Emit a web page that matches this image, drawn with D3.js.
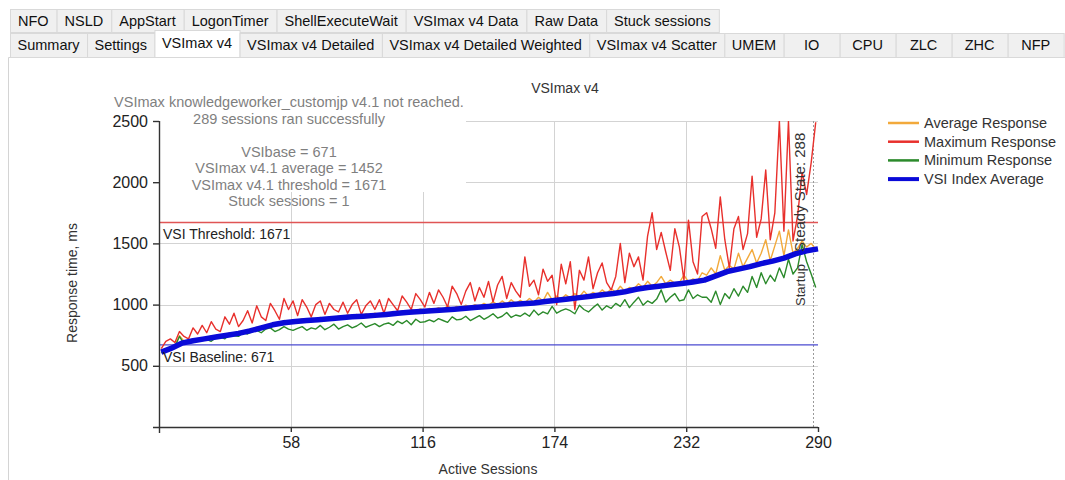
<!DOCTYPE html>
<html>
<head>
<meta charset="utf-8">
<script src="https://cdn.jsdelivr.net/npm/d3@7"></script>
<style>
  html, body { margin: 0; padding: 0; background: #ffffff; }
  svg { display: block; font-family: "Liberation Sans", Arial, sans-serif; }
</style>
</head>
<body>
<div id="container"></div>
<script>
"use strict";

// Tabs of the report window.
const tabsTop = ["NFO", "NSLD", "AppStart", "LogonTimer", "ShellExecuteWait", "VSImax v4 Data", "Raw Data", "Stuck sessions"];
const tabsBottom = ["Summary", "Settings", "VSImax v4", "VSImax v4 Detailed", "VSImax v4 Detailed Weighted",
  "VSImax v4 Scatter", "UMEM", "IO", "CPU", "ZLC", "ZHC", "NFP"];
const activeTab = "VSImax v4";

const chartTitle = "VSImax v4";
const xTicks = [58, 116, 174, 232, 290];
const yTicks = [500, 1000, 1500, 2000, 2500];
const noteLines = [
  "VSImax knowledgeworker_customjp v4.1 not reached.",
  "289 sessions ran successfully",
  "",
  "VSIbase = 671",
  "VSImax v4.1 average = 1452",
  "VSImax v4.1 threshold = 1671",
  "Stuck sessions = 1"
];
const vsiBase = 671;
const vsiThreshold = 1671;
const steadyState = 288;

// Per-session responses, read every second session (1, 3, 5 ... 289).
const sessions = d3.range(1, 290, 2);
const avgResponse = [
  620, 640, 650, 670, 745, 700, 705, 720, 720, 730,
  730, 745, 740, 755, 750, 770, 765, 780, 780, 795,
  800, 815, 815, 835, 840, 850, 850, 870, 860, 875,
  870, 885, 875, 890, 880, 895, 885, 900, 893, 905,
  900, 915, 905, 920, 910, 925, 912, 930, 920, 935,
  930, 945, 935, 950, 940, 960, 946, 965, 952, 968,
  958, 975, 960, 990, 966, 985, 972, 995, 978, 1000,
  985, 1010, 990, 1025, 996, 1030, 1002, 1040, 1008, 1035,
  1015, 1050, 1020, 1060, 1030, 1100, 1038, 1070, 1045, 1080,
  1055, 1090, 1062, 1110, 1070, 1100, 1082, 1120, 1090, 1130,
  1100, 1150, 1110, 1140, 1128, 1170, 1140, 1190, 1150, 1180,
  1230, 1170, 1200, 1175, 1180, 1240, 1185, 1210, 1195, 1260,
  1240, 1300, 1250, 1400, 1280, 1320, 1290, 1420, 1310, 1380,
  1450, 1340, 1420, 1530, 1360, 1480, 1600, 1400, 1610, 1420,
  1460, 1520, 1470, 1500, 1450
];
const maxResponse = [
  640, 700, 720, 690, 780, 740, 720, 810, 760, 830,
  770, 860, 800, 780, 900, 840, 930, 820, 870, 950,
  850, 990, 900, 870, 1010, 950, 880, 1050, 960, 1030,
  910, 1040, 980, 900, 1000, 1030, 920, 1010, 960, 940,
  1020, 930, 1000, 1040, 920, 990, 1030, 960, 1040, 930,
  1050, 1000, 950, 1070, 1020, 960, 1090, 1040, 980, 1100,
  1010, 1120, 1060, 980, 1150, 1090, 1000, 1110, 1180, 1030,
  1140, 1060, 1190, 1020, 1160, 1230, 1050, 1180, 1110, 1060,
  1390, 1150, 1200, 1080, 1290, 1190, 1240, 1000, 1330, 1170,
  1350, 960, 1280, 1200, 1390, 1130, 1260, 1340, 1180, 1120,
  1230, 1500, 1180, 1420, 1310, 1390, 1200, 1560, 1750, 1450,
  1590, 1430, 1280, 1620, 1470, 1200, 1690, 1350, 1250, 1720,
  1750, 1620, 1460, 1880, 1530, 1300, 1620, 1720, 1450, 1580,
  2050, 1550, 1700, 2100, 1530, 1750, 2500, 1600, 2500, 1520,
  1720, 2080, 1900, 2160, 2490
];
const minResponse = [
  605, 630, 645, 655, 740, 680, 690, 700, 705, 715,
  715, 700, 730, 735, 720, 760, 745, 740, 770, 760,
  780, 790, 770, 800, 810, 780, 795, 820, 800, 790,
  805, 820, 790, 810, 800, 830, 795, 815, 840, 800,
  820, 835, 810, 825, 850, 815, 830, 845, 820, 840,
  850, 830, 865, 845, 870, 835, 880, 855, 860, 875,
  860, 885, 870, 855, 900, 875, 880, 905, 870, 890,
  910, 880, 900, 925, 890, 905, 935, 895, 915, 905,
  930, 905, 955, 915, 940, 925, 985, 930, 950, 965,
  950, 925, 995, 960, 940, 975, 1005, 955, 990, 970,
  1010, 985, 1040, 975, 1020, 1060, 995, 1030, 1010, 1045,
  1120, 1020, 1060, 1090, 1030, 1040, 1120, 1050, 1080, 1060,
  1060, 1020, 1110, 1000, 1090, 1050, 1130, 1070, 1150, 1100,
  1230, 1140, 1260, 1170, 1240, 1190, 1300, 1220, 1370, 1250,
  1300, 1490, 1350, 1250, 1140
];

// VSI index average is smooth, read every fifth session.
const vsiSessions = [1, 5, 10, 15, 20, 25, 30, 35, 40, 45, 50, 55, 60, 65, 70, 75, 80, 85, 90, 95,
  100, 105, 110, 115, 120, 125, 130, 135, 140, 145, 150, 155, 160, 165, 170, 175, 180, 185, 190, 195,
  200, 205, 210, 215, 220, 225, 230, 235, 240, 245, 250, 255, 260, 265, 270, 275, 280, 285, 290];
const vsiIndex = [612, 640, 685, 705, 720, 735, 750, 765, 785, 810, 835, 852, 862, 870, 877, 885, 893, 900, 905, 912,
  920, 930, 937, 944, 950, 955, 962, 970, 978, 985, 993, 1000, 1006, 1013, 1025, 1035, 1045, 1057, 1068, 1080,
  1090, 1105, 1125, 1140, 1150, 1162, 1172, 1185, 1200, 1235, 1270, 1290, 1310, 1335, 1355, 1380, 1415, 1440, 1455];

const seriesNames = ["Average Response", "Maximum Response", "Minimum Response", "VSI Index Average"];

const W = 1065, H = 480;
const colors = {
  "Average Response": "#f2a93b",
  "Maximum Response": "#e8302c",
  "Minimum Response": "#2b8a2b",
  "VSI Index Average": "#0a0ad8"
};

const svg = d3.select("#container").append("svg").attr("width", W).attr("height", H);

// ---- tab strip ----
const tabFont = 14.5;
function drawTabRow(names, top, height, padding, minWidth) {
  let left = 10;
  const row = svg.append("g");
  names.forEach((name) => {
    const active = name === activeTab;
    const g = row.append("g");
    const rect = g.append("rect");
    const label = g.append("text")
      .attr("font-size", tabFont)
      .attr("fill", "#111")
      .attr("text-anchor", "middle")
      .text(name);
    const w = Math.max(label.node().getComputedTextLength() + 2 * padding, minWidth);
    rect
      .attr("x", left + 0.5)
      .attr("y", active ? top - 2.5 : top + 0.5)
      .attr("width", w)
      .attr("height", active ? height + 3 : height)
      .attr("fill", active ? "#ffffff" : "#f0f0f0")
      .attr("stroke", "#d9d9d9");
    label.attr("x", left + w / 2).attr("y", top + height / 2 + 5 - (active ? 2 : 0));
    left += w;
  });
}
drawTabRow(tabsTop, 9, 23, 8, 40);
// content frame
svg.append("path")
  .attr("d", `M8.5,${H} V57.5 H${W}`)
  .attr("fill", "none")
  .attr("stroke", "#d4d4d4");
drawTabRow(tabsBottom, 33, 24, 7.5, 56);

// ---- chart ----
const x = d3.scaleLinear().domain([0, 290]).range([159, 818]);
const y = d3.scaleLinear().domain([0, 2500]).range([427, 121]);

const grid = svg.append("g").attr("stroke", "#d3d3d3").attr("stroke-width", 1);
grid.selectAll("line.h").data(yTicks).join("line")
  .attr("x1", x(0)).attr("x2", x(290))
  .attr("y1", (d) => Math.round(y(d)) + 0.5).attr("y2", (d) => Math.round(y(d)) + 0.5);
grid.selectAll("line.v").data(xTicks.slice(0, -1)).join("line")
  .attr("x1", (d) => Math.round(x(d)) + 0.5).attr("x2", (d) => Math.round(x(d)) + 0.5)
  .attr("y1", y(2500)).attr("y2", y(0));

// steady state marker
svg.append("line")
  .attr("x1", Math.round(x(steadyState)) + 0.5).attr("x2", Math.round(x(steadyState)) + 0.5)
  .attr("y1", y(2500)).attr("y2", y(0))
  .attr("stroke", "#9a9a9a").attr("stroke-dasharray", "2,2");

// annotation box hides grid behind the notes
svg.append("rect")
  .attr("x", 108).attr("y", 93).attr("width", 358).attr("height", 99)
  .attr("fill", "#ffffff");

// reference lines
svg.append("line")
  .attr("x1", x(0)).attr("x2", x(290))
  .attr("y1", y(vsiThreshold)).attr("y2", y(vsiThreshold))
  .attr("stroke", "#e05555").attr("stroke-width", 1.5);
svg.append("line")
  .attr("x1", x(0)).attr("x2", x(290))
  .attr("y1", y(vsiBase)).attr("y2", y(vsiBase))
  .attr("stroke", "#4b4bd0").attr("stroke-width", 1.3);

svg.append("clipPath").attr("id", "plot")
  .append("rect").attr("x", x(0)).attr("y", y(2500)).attr("width", x(290) - x(0) + 2).attr("height", y(0) - y(2500));

const plot = svg.append("g").attr("clip-path", "url(#plot)");
const line = d3.line().x((d) => x(d[0])).y((d) => y(d[1]));
const seriesData = {
  "Average Response": d3.zip(sessions, avgResponse),
  "Maximum Response": d3.zip(sessions, maxResponse),
  "Minimum Response": d3.zip(sessions, minResponse),
  "VSI Index Average": d3.zip(vsiSessions, vsiIndex)
};
seriesNames.forEach((name) => {
  plot.append("path")
    .datum(seriesData[name])
    .attr("fill", "none")
    .attr("stroke", colors[name])
    .attr("stroke-width", name === "VSI Index Average" ? 5.5 : 1.4)
    .attr("stroke-linejoin", "round")
    .attr("d", line);
});

// reference line labels
svg.append("text").attr("x", 163).attr("y", y(vsiThreshold) + 17)
  .attr("font-size", 14).attr("fill", "#222").text(`VSI Threshold: ${vsiThreshold}`);
svg.append("text").attr("x", 163).attr("y", y(vsiBase) + 17)
  .attr("font-size", 14).attr("fill", "#222").text(`VSI Baseline: ${vsiBase}`);

// startup / steady state labels
svg.append("text")
  .attr("transform", `translate(${x(steadyState) - 8},306) rotate(-90)`)
  .attr("font-size", 13).attr("fill", "#333").text("Startup");
svg.append("text")
  .attr("transform", `translate(${x(steadyState) - 8},252) rotate(-90)`)
  .attr("font-size", 15).attr("fill", "#333").text(`Steady State: ${steadyState}`);

// axes
const yAxis = svg.append("g")
  .attr("transform", `translate(${x(0)},0)`)
  .call(d3.axisLeft(y).tickValues(yTicks).tickFormat(d3.format("d")).tickSize(6).tickPadding(5).tickSizeOuter(0))
  .call((g) => g.select(".domain").attr("d", `M0.5,${y(2500)}V${y(0) + 6}`));
yAxis.selectAll("text").attr("font-size", 16).attr("fill", "#222")
  .attr("font-family", "\"Liberation Sans\", Arial, sans-serif");
yAxis.selectAll("line, path").attr("stroke", "#333").attr("stroke-width", 1.4);

const xAxis = svg.append("g")
  .attr("transform", `translate(0,${y(0)})`)
  .call(d3.axisBottom(x).tickValues(xTicks).tickSize(5).tickPadding(5).tickSizeOuter(0))
  .call((g) => g.select(".domain").attr("d", `M${x(0) - 6},0.5H${x(290)}`));
xAxis.selectAll("text").attr("font-size", 16).attr("fill", "#222")
  .attr("font-family", "\"Liberation Sans\", Arial, sans-serif");
xAxis.selectAll("line, path").attr("stroke", "#333").attr("stroke-width", 1.4);

// axis titles and chart title
svg.append("text")
  .attr("transform", `translate(77,283) rotate(-90)`)
  .attr("text-anchor", "middle").attr("font-size", 14).attr("fill", "#333")
  .text("Response time, ms");
svg.append("text")
  .attr("x", 488).attr("y", 474)
  .attr("text-anchor", "middle").attr("font-size", 14).attr("fill", "#333")
  .text("Active Sessions");
svg.append("text")
  .attr("x", 565).attr("y", 93)
  .attr("text-anchor", "middle").attr("font-size", 14).attr("fill", "#333")
  .text(chartTitle);

// notes
svg.append("g").selectAll("text").data(noteLines).join("text")
  .attr("x", 289)
  .attr("y", (d, i) => 107 + i * 16.5)
  .attr("text-anchor", "middle")
  .attr("font-size", 14.5)
  .attr("fill", "#7f7f7f")
  .text((d) => d);

// legend
const legend = svg.append("g").attr("transform", "translate(888,123)");
seriesNames.forEach((name, i) => {
  const row = legend.append("g").attr("transform", `translate(0,${i * 18.7})`);
  row.append("line").attr("x1", 0).attr("x2", 31).attr("y1", 0).attr("y2", 0)
    .attr("stroke", colors[name]).attr("stroke-width", name === "VSI Index Average" ? 4 : 2.5);
  row.append("text").attr("x", 36).attr("y", 5).attr("font-size", 14.5).attr("fill", "#333").text(name);
});
</script>
</body>
</html>
